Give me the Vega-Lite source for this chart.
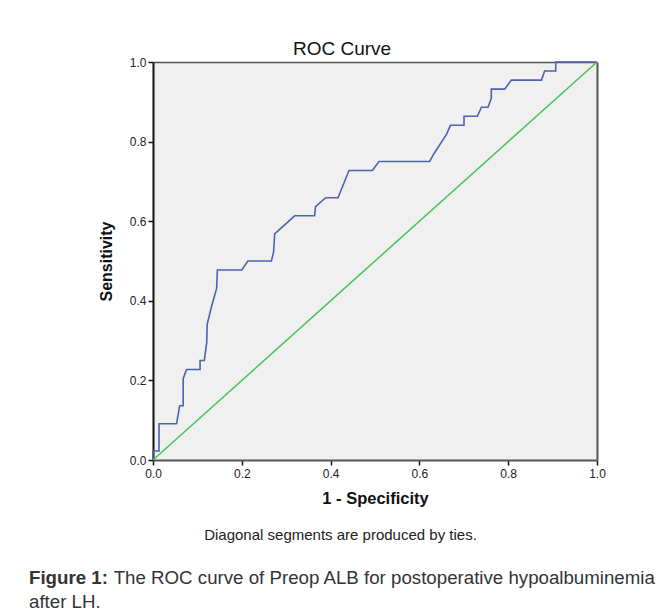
{
  "$schema": "https://vega.github.io/schema/vega-lite/v6.json",
  "width": 444,
  "height": 398,
  "autosize": {"type": "none"},
  "padding": {"left": 153, "top": 62, "right": 73, "bottom": 156},
  "background": "white",
  "config": {
    "view": {"fill": "#f0f0f0", "stroke": null},
    "font": "Liberation Sans, Arial, sans-serif"
  },
  "datasets": {
    "roc": [
      {"i": 0, "fpr": 0, "tpr": 0},
      {"i": 1, "fpr": 0, "tpr": 0.0227},
      {"i": 2, "fpr": 0.0136, "tpr": 0.0227},
      {"i": 3, "fpr": 0.0136, "tpr": 0.0909},
      {"i": 4, "fpr": 0.053, "tpr": 0.0909},
      {"i": 5, "fpr": 0.0566, "tpr": 0.1136},
      {"i": 6, "fpr": 0.06, "tpr": 0.1364},
      {"i": 7, "fpr": 0.068, "tpr": 0.1364},
      {"i": 8, "fpr": 0.068, "tpr": 0.2045},
      {"i": 9, "fpr": 0.0755, "tpr": 0.2273},
      {"i": 10, "fpr": 0.106, "tpr": 0.2273},
      {"i": 11, "fpr": 0.106, "tpr": 0.25},
      {"i": 12, "fpr": 0.1155, "tpr": 0.25},
      {"i": 13, "fpr": 0.121, "tpr": 0.2955},
      {"i": 14, "fpr": 0.122, "tpr": 0.3409},
      {"i": 15, "fpr": 0.132, "tpr": 0.3864},
      {"i": 16, "fpr": 0.1434, "tpr": 0.4318},
      {"i": 17, "fpr": 0.145, "tpr": 0.4773},
      {"i": 18, "fpr": 0.2, "tpr": 0.4773},
      {"i": 19, "fpr": 0.2137, "tpr": 0.5},
      {"i": 20, "fpr": 0.2666, "tpr": 0.5},
      {"i": 21, "fpr": 0.2717, "tpr": 0.5227},
      {"i": 22, "fpr": 0.274, "tpr": 0.5682},
      {"i": 23, "fpr": 0.319, "tpr": 0.6136},
      {"i": 24, "fpr": 0.364, "tpr": 0.6136},
      {"i": 25, "fpr": 0.366, "tpr": 0.6364},
      {"i": 26, "fpr": 0.389, "tpr": 0.6591},
      {"i": 27, "fpr": 0.4167, "tpr": 0.6591},
      {"i": 28, "fpr": 0.4415, "tpr": 0.7273},
      {"i": 29, "fpr": 0.494, "tpr": 0.7273},
      {"i": 30, "fpr": 0.509, "tpr": 0.75},
      {"i": 31, "fpr": 0.623, "tpr": 0.75},
      {"i": 32, "fpr": 0.6345, "tpr": 0.7727},
      {"i": 33, "fpr": 0.661, "tpr": 0.8182},
      {"i": 34, "fpr": 0.67, "tpr": 0.8409},
      {"i": 35, "fpr": 0.7005, "tpr": 0.8409},
      {"i": 36, "fpr": 0.7005, "tpr": 0.8636},
      {"i": 37, "fpr": 0.7306, "tpr": 0.8636},
      {"i": 38, "fpr": 0.7397, "tpr": 0.8864},
      {"i": 39, "fpr": 0.7545, "tpr": 0.8864},
      {"i": 40, "fpr": 0.762, "tpr": 0.9091},
      {"i": 41, "fpr": 0.762, "tpr": 0.9318},
      {"i": 42, "fpr": 0.792, "tpr": 0.9318},
      {"i": 43, "fpr": 0.807, "tpr": 0.9545},
      {"i": 44, "fpr": 0.875, "tpr": 0.9545},
      {"i": 45, "fpr": 0.882, "tpr": 0.9773},
      {"i": 46, "fpr": 0.907, "tpr": 0.9773},
      {"i": 47, "fpr": 0.907, "tpr": 1},
      {"i": 48, "fpr": 1, "tpr": 1}
    ],
    "diag": [
      {"i": 0, "fpr": 0, "tpr": 0},
      {"i": 1, "fpr": 1, "tpr": 1}
    ]
  },
  "title": {
    "text": "Figure 1:",
    "subtitle": "after LH.",
    "orient": "bottom",
    "anchor": "start",
    "frame": "group",
    "dx": -124,
    "offset": -18.7,
    "fontSize": 18.7,
    "fontWeight": "bold",
    "color": "#333333",
    "subtitleFontSize": 18.7,
    "subtitleFontWeight": "normal",
    "subtitleColor": "#333333",
    "subtitlePadding": 5.3
  },
  "layer": [
    {
      "data": {"name": "roc"},
      "mark": {"type": "line", "color": "#4d62b3", "strokeWidth": 1.6, "clip": false},
      "encoding": {
        "x": {
          "field": "fpr", "type": "quantitative",
          "scale": {"domain": [0, 1], "nice": false},
          "axis": {
            "orient": "bottom", "values": [0, 0.2, 0.4, 0.6, 0.8, 1], "format": ".1f",
            "grid": false, "domainColor": "#555555", "domainWidth": 2,
            "tickColor": "#111111", "tickSize": 5, "tickWidth": 1.5,
            "labelFontSize": 12, "labelColor": "#222222", "labelPadding": 3, "labelFlush": false,
            "title": "1 - Specificity", "titleFontSize": 16.5, "titleFontWeight": "bold",
            "titleColor": "#111111", "titlePadding": 11
          }
        },
        "y": {
          "field": "tpr", "type": "quantitative",
          "scale": {"domain": [0, 1], "nice": false},
          "axis": {
            "orient": "left", "values": [0, 0.2, 0.4, 0.6, 0.8, 1], "format": ".1f",
            "grid": false, "domainColor": "#111111", "domainWidth": 2,
            "tickColor": "#111111", "tickSize": 5, "tickWidth": 1.5,
            "labelFontSize": 12, "labelColor": "#222222", "labelPadding": 2, "labelFlush": false,
            "title": "Sensitivity", "titleFontSize": 16, "titleFontWeight": "bold",
            "titleColor": "#111111", "titlePadding": 15
          }
        },
        "order": {"field": "i", "type": "quantitative"}
      }
    },
    {
      "data": {"name": "diag"},
      "mark": {"type": "line", "color": "#45c255", "strokeWidth": 1.5},
      "encoding": {
        "x": {
          "field": "fpr", "type": "quantitative",
          "scale": {"domain": [0, 1], "nice": false},
          "axis": {
            "orient": "top", "labels": false, "ticks": false, "grid": false,
            "domainColor": "#555555", "domainWidth": 1.5,
            "title": "ROC Curve", "titleFontSize": 19, "titleFontWeight": "normal",
            "titleColor": "#111111", "titleX": 188.5, "titleY": -8,
            "titleAlign": "center", "titleBaseline": "alphabetic", "titleAngle": 0
          }
        },
        "y": {
          "field": "tpr", "type": "quantitative",
          "scale": {"domain": [0, 1], "nice": false},
          "axis": {
            "orient": "right", "labels": false, "ticks": false, "grid": false,
            "domainColor": "#555555", "domainWidth": 2,
            "title": "Diagonal segments are produced by ties.", "titleFontSize": 15,
            "titleFontWeight": "normal", "titleColor": "#222222",
            "titleAngle": 0, "titleX": -257, "titleY": 477,
            "titleAlign": "center", "titleBaseline": "alphabetic"
          }
        },
        "order": {"field": "i", "type": "quantitative"}
      }
    },
    {
      "data": {"name": "diag"},
      "mark": {"type": "point", "opacity": 0, "size": 1},
      "encoding": {
        "x": {
          "field": "fpr", "type": "quantitative",
          "scale": {"domain": [0, 1], "nice": false},
          "axis": {
            "orient": "bottom", "labels": false, "ticks": false, "grid": false, "domain": false,
            "title": "The ROC curve of Preop ALB for postoperative hypoalbuminemia",
            "titleFontSize": 18.7, "titleFontWeight": "normal", "titleColor": "#333333",
            "titleAngle": 0, "titleX": -39.8, "titleY": 123.5,
            "titleAlign": "left", "titleBaseline": "alphabetic"
          }
        },
        "y": {
          "field": "tpr", "type": "quantitative",
          "scale": {"domain": [0, 1], "nice": false},
          "axis": null
        }
      }
    }
  ],
  "resolve": {"axis": {"x": "independent", "y": "independent"}}
}
